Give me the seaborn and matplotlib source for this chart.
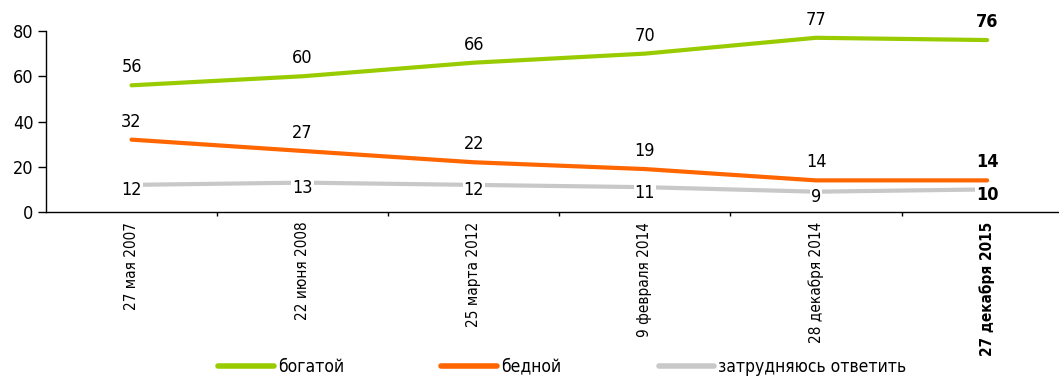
import pandas as pd
import matplotlib
matplotlib.use("Agg")
import matplotlib.pyplot as plt
import seaborn as sns

dates = ["27 мая 2007", "22 июня 2008", "25 марта 2012",
         "9 февраля 2014", "28 декабря 2014", "27 декабря 2015"]
series_names = ["богатой", "бедной", "затрудняюсь ответить"]
rich = [56, 60, 66, 70, 77, 76]
poor = [32, 27, 22, 19, 14, 14]
unsure = [12, 13, 12, 11, 9, 10]
colors = ["#99CC00", "#FF6600", "#C8C8C8"]

sns.set_style("white")
plt.rcParams["font.family"] = ["DejaVu Sans"]
plt.rcParams["font.stretch"] = "condensed"
plt.rcParams["text.color"] = "black"
plt.rcParams["xtick.color"] = "black"
plt.rcParams["ytick.color"] = "black"

rows = []
for name, vals in zip(series_names, [rich, poor, unsure]):
    for i, v in enumerate(vals):
        rows.append({"pos": i, "value": v, "series": name})
df = pd.DataFrame(rows)

fig = plt.figure(figsize=(10.59, 3.78), dpi=100)
ax = fig.add_axes([0.0434, 0.439, 0.9566, 0.479])

sns.lineplot(data=df, x="pos", y="value", hue="series", hue_order=series_names,
             palette=colors, linewidth=3, ax=ax, legend=False,
             solid_capstyle="round")

last = len(dates) - 1
for name, vals in zip(series_names, [rich, poor, unsure]):
    for i, v in enumerate(vals):
        weight = "bold" if i == last else "normal"
        if name == "затрудняюсь ответить":
            ax.annotate(str(v), (i, v), xytext=(0, -4), textcoords="offset points",
                        ha="center", va="center", fontsize=13, weight=weight,
                        bbox=dict(boxstyle="square,pad=0.05", fc="white", ec="none"))
        else:
            ax.annotate(str(v), (i, v), xytext=(0, 13), textcoords="offset points",
                        ha="center", va="center", fontsize=13, weight=weight)

ax.set_xlim(-0.5, 5.42)
ax.set_ylim(0, 80)
ax.set_yticks([0, 20, 40, 60, 80])
ax.tick_params(axis="y", labelsize=13, length=6, width=1, direction="out", left=True, pad=3)
ax.set_xticks(range(len(dates)))
ax.set_xticklabels(dates, rotation=90, fontsize=11, va="top")
ax.get_xticklabels()[last].set_fontweight("bold")
ax.set_xticks([i + 0.5 for i in range(len(dates) - 1)], minor=True)
ax.tick_params(axis="x", which="major", length=0, pad=7)
ax.tick_params(axis="x", which="minor", length=3, width=1, direction="out", bottom=True)
ax.set_xlabel("")
ax.set_ylabel("")
for s in ["top", "right"]:
    ax.spines[s].set_visible(False)
for s in ["left", "bottom"]:
    ax.spines[s].set_color("black")
    ax.spines[s].set_linewidth(1)

handles = [plt.Line2D([], [], color=c, lw=4, solid_capstyle="round") for c in colors]
fig.legend(handles, series_names, loc="lower center", bbox_to_anchor=(0.531, -0.035),
           ncol=3, frameon=False, fontsize=12.5, handlelength=3.2,
           columnspacing=5.6, handletextpad=0.25)

fig.savefig("out.png", dpi=100)
